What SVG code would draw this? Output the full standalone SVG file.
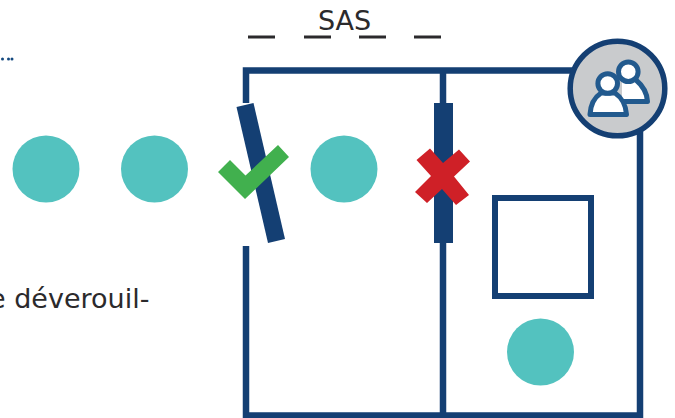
<svg xmlns="http://www.w3.org/2000/svg" width="675" height="418" viewBox="0 0 675 418">
<style>
.w{fill:none;stroke:#143f73;stroke-width:6.5;stroke-linejoin:miter}
.p{fill:#53c2bf}
.t{font-family:"DejaVu Sans","Open Sans",sans-serif;fill:#2b2a2c;font-size:27px}
.d{stroke:#2b2a2c;stroke-width:3;fill:none}
.u{fill:#fff;stroke:#225a8e;stroke-width:5;stroke-linejoin:round}
</style>
<rect width="675" height="418" fill="#fff"/>
<g id="walls">
<path class="w" d="M246 103V70.500H640V415.500H246V246M443 70.500V415.500"/>
</g>
<g id="dashes">
<path class="d" d="M248 37h27M304 37h27M359 37h27M414 37h27"/>
</g>
<text class="t" x="344.500" y="30" text-anchor="middle" id="label-sas">SAS</text>
<text class="t" x="-11" y="308" id="label-text">e déverouil-</text>
<g fill="#14497f" id="dots"><circle cx="2.500" cy="59" r="1.500"/><circle cx="8.500" cy="59" r="1.500"/><circle cx="12" cy="59" r="1.500"/></g>
<g id="person1"><circle class="p" cx="46" cy="169" r="33.500"/></g>
<g id="person2"><circle class="p" cx="154.500" cy="169" r="33.500"/></g>
<g id="person3"><circle class="p" cx="344" cy="169" r="33.500"/></g>
<g id="person4"><circle class="p" cx="540.500" cy="352" r="33.500"/></g>
<g id="door-open"><polygon fill="#143f73" points="236.500,107 253.500,103 285,239 268,243"/></g>
<g id="door-closed"><rect x="434" y="103" width="19" height="140" fill="#143f73"/></g>
<g id="check"><polygon fill="#41b04e" points="218,172 230,160 245.500,175.500 278,145 289,157 245,199"/></g>
<g id="cross"><polygon fill="#cf2027" points="416.500,160 430,148.500 443,163 459,149.500 470,161.500 454,176.500 469,195 456,205 442,189 427,203 415,192 431,176"/></g>
<g id="box"><rect class="w" x="495" y="198" width="96" height="98" style="stroke-width:6"/></g>
<g id="users">
<circle cx="617.500" cy="88.500" r="47.300" fill="#c9cbcd" stroke="#143f73" stroke-width="5.500"/>
<path d="M622 78H636C642 84 647 92 647.500 101.500H622Z" fill="#fff"/>
<path d="M636 80C642 85 647 93 647.500 101.500H622" fill="none" stroke="#225a8e" stroke-width="5" stroke-linejoin="round"/>
<circle class="u" cx="628.300" cy="71.700" r="9.800"/>
<path class="u" d="M590 114.500C590.500 105 595 97 601 93H615C621 97 626 105 626.500 114.500Z"/>
<circle class="u" cx="607.700" cy="83.500" r="9.800"/>
</g>
</svg>
